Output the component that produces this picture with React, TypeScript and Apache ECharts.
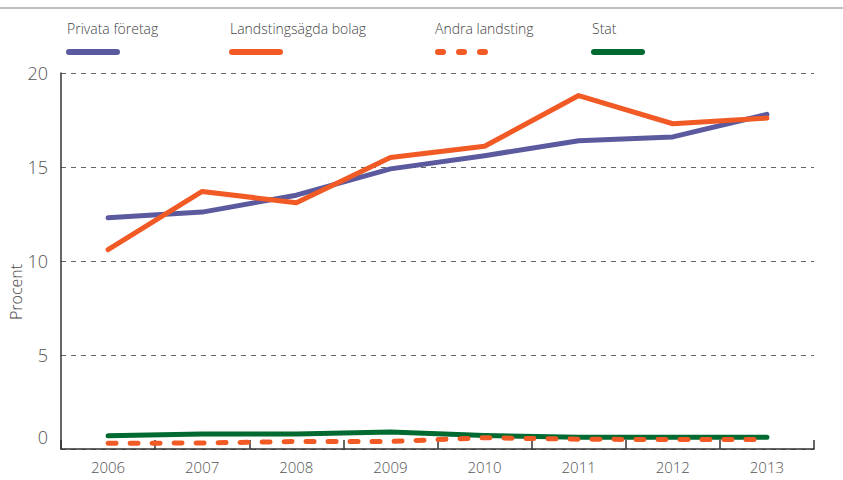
import React, { useEffect, useRef } from "react";
import * as echarts from "echarts";

const years = ["2006", "2007", "2008", "2009", "2010", "2011", "2012", "2013"];
const privataForetag = [12.3, 12.6, 13.5, 14.9, 15.6, 16.4, 16.6, 17.8];
const landstingsagdaBolag = [10.6, 13.7, 13.1, 15.5, 16.1, 18.8, 17.3, 17.6];
const andraLandsting = [0.3, 0.32, 0.4, 0.4, 0.6, 0.52, 0.5, 0.5];
const stat = [0.7, 0.8, 0.8, 0.9, 0.72, 0.62, 0.62, 0.62];
const yTicks = [0, 5, 10, 15, 20];
const legendNames = ["Privata företag", "Landstingsägda bolag", "Andra landsting", "Stat"];

const PURPLE = "#5b5a9e";
const ORANGE = "#f15a24";
const GREEN = "#006a31";
const FONT = "'Open Sans', sans-serif";

export default function App() {
  const ref = useRef<HTMLDivElement>(null);
  useEffect(() => {
    if (!ref.current) return;
    const chart = echarts.init(ref.current, null, { renderer: "svg" });
    const legendX = [67, 230, 435, 592];
    const colors = [PURPLE, ORANGE, ORANGE, GREEN];
    const graphics: any[] = [
      { type: "line", shape: { x1: 0, y1: 8, x2: 843, y2: 8 }, style: { stroke: "#a8a8a8", lineWidth: 1.5 } },
      {
        type: "text",
        x: 16,
        y: 292,
        rotation: Math.PI / 2,
        style: { text: "Procent", font: `300 16px ${FONT}`, fill: "#444", align: "center", verticalAlign: "middle" },
      },
    ];
    legendNames.forEach((n, i) => {
      graphics.push({
        type: "text",
        x: legendX[i],
        y: 28,
        style: { text: n, font: `300 14px ${FONT}`, fill: "#444", verticalAlign: "middle" },
      });
      if (i === 2) {
        for (let k = 0; k < 3; k++) {
          const sx = legendX[i] + 3 + k * 21;
          graphics.push({
            type: "line",
            shape: { x1: sx, y1: 52, x2: sx + 5, y2: 52 },
            style: { stroke: colors[i], lineWidth: 6, lineCap: "round" },
          });
        }
      } else {
        graphics.push({
          type: "line",
          shape: { x1: legendX[i] + 2, y1: 52, x2: legendX[i] + 50, y2: 52 },
          style: { stroke: colors[i], lineWidth: 6, lineCap: "round" },
        });
      }
    });
    const lineSeries = (name: string, data: number[], color: string, dashed = false) => ({
      type: "line",
      name,
      data,
      symbol: "none",
      lineStyle: dashed
        ? { color, width: 5, type: [8, 14], cap: "round" }
        : { color, width: 5, cap: "round", join: "round" },
      itemStyle: { color },
    });
    chart.setOption({
      animation: false,
      grid: { left: 61, right: 29, top: 73, bottom: 31 },
      xAxis: {
        type: "category",
        data: years,
        boundaryGap: true,
        axisLine: { lineStyle: { color: "#333", width: 1.5 } },
        axisTick: { show: true, inside: true, length: 9, lineStyle: { color: "#333", width: 1.5 } },
        axisLabel: { color: "#555", fontSize: 15, fontFamily: FONT, fontWeight: 300, margin: 10 },
      },
      yAxis: {
        type: "value",
        min: 0,
        max: 20,
        interval: 5,
        axisLine: { show: true, lineStyle: { color: "#333", width: 1.5 } },
        axisTick: { show: false },
        splitLine: { lineStyle: { color: "#666", type: [5, 5], width: 1 } },
        axisLabel: {
          color: "#555",
          fontSize: 18,
          fontFamily: FONT,
          fontWeight: 300,
          margin: 13,
          formatter: (v: number) => (yTicks.includes(v) ? (v === 0 ? "{z|0}" : String(v)) : ""),
          rich: { z: { color: "#555", fontSize: 18, fontFamily: FONT, fontWeight: 300, padding: [0, 0, 24, 0] } },
        },
      },
      series: [
        lineSeries(legendNames[3], stat, GREEN),
        lineSeries(legendNames[2], andraLandsting, ORANGE, true),
        lineSeries(legendNames[0], privataForetag, PURPLE),
        lineSeries(legendNames[1], landstingsagdaBolag, ORANGE),
      ],
      graphic: graphics,
    });
    return () => chart.dispose();
  }, []);
  return <div ref={ref} style={{ width: 843, height: 480, position: "absolute", left: 0, top: 0 }} />;
}
